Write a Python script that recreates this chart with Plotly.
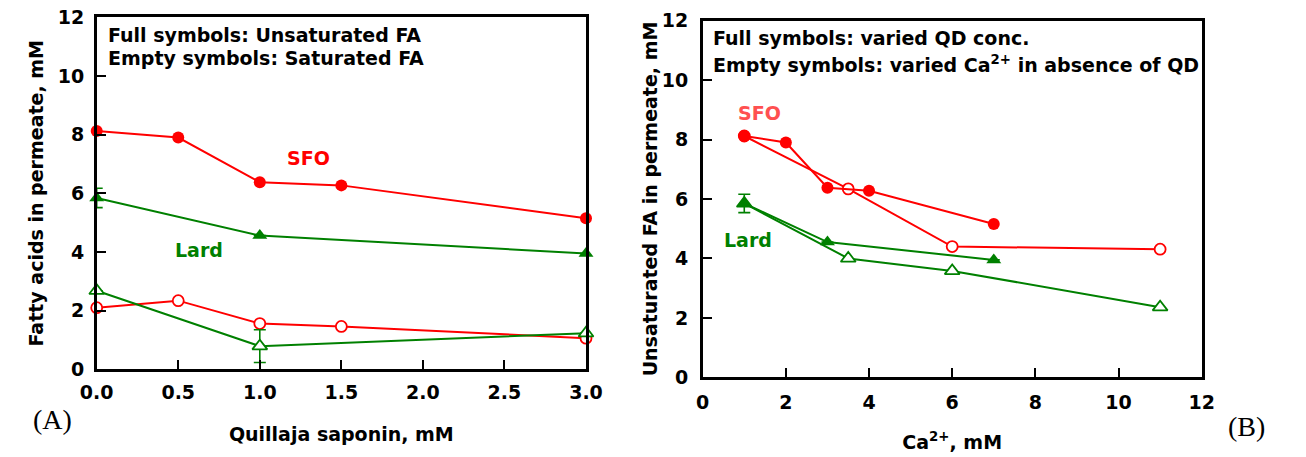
import plotly.graph_objects as go

# ---- Panel A: fatty acids in permeate vs. Quillaja saponin ----
saponin_mM = [0.0, 0.5, 1.0, 1.5, 3.0]
sfo_unsat_a = [8.12, 7.90, 6.38, 6.27, 5.15]
sfo_sat_a = [2.10, 2.34, 1.56, 1.46, 1.06]

lard_saponin_mM = [0.0, 1.0, 3.0]
lard_unsat_a = [5.84, 4.56, 3.95]
lard_unsat_a_err = [0.33, None, None]
lard_sat_a = [2.68, 0.79, 1.23]
lard_sat_a_err = [None, 0.56, None]

# ---- Panel B: unsaturated FA in permeate vs. Ca2+ ----
sfo_qd_ca = [1, 2, 3, 4, 7]
sfo_qd = [8.12, 7.90, 6.38, 6.28, 5.16]
sfo_ca_ca = [1, 3.5, 6, 11]
sfo_ca = [8.12, 6.34, 4.40, 4.31]

lard_qd_ca = [1, 3, 7]
lard_qd = [5.85, 4.55, 3.95]
lard_qd_err = [0.31, None, None]
lard_ca_ca = [1, 3.5, 6, 11]
lard_ca = [5.85, 4.00, 3.58, 2.36]

RED = "#FF0000"
GREEN = "#008000"
FONT = "DejaVu Sans"
FS = 19


def series(x, y, color, symbol, xa, ya, filled=True, err=None, size=12):
    tr = go.Scatter(
        x=x, y=y, mode="lines+markers", xaxis=xa, yaxis=ya,
        line=dict(color=color, width=2),
        marker=dict(symbol=symbol, size=size, color=color if filled else "white",
                    line=dict(color=color, width=0 if filled else 1.8)),
        cliponaxis=False, showlegend=False,
    )
    if err is not None:
        tr.error_y = dict(type="data", array=err, visible=True, color=color,
                          thickness=1.6, width=6)
    return tr


fig = go.Figure()
# Panel A
fig.add_trace(series(saponin_mM, sfo_unsat_a, RED, "circle", "x", "y"))
fig.add_trace(series(saponin_mM, sfo_sat_a, RED, "circle", "x", "y", filled=False, size=11))
fig.add_trace(series(lard_saponin_mM, lard_unsat_a, GREEN, "triangle-up", "x", "y",
                     err=lard_unsat_a_err, size=13))
fig.add_trace(series(lard_saponin_mM, lard_sat_a, GREEN, "triangle-up", "x", "y",
                     filled=False, err=lard_sat_a_err, size=13))
# Panel B (empty symbols first so the shared first point shows filled)
fig.add_trace(series(sfo_ca_ca, sfo_ca, RED, "circle", "x2", "y2", filled=False, size=11))
fig.add_trace(series(sfo_qd_ca, sfo_qd, RED, "circle", "x2", "y2"))
fig.add_trace(series(lard_ca_ca, lard_ca, GREEN, "triangle-up", "x2", "y2",
                     filled=False, size=13))
fig.add_trace(series(lard_qd_ca, lard_qd, GREEN, "triangle-up", "x2", "y2",
                     err=lard_qd_err, size=13))

tickfont = dict(family=FONT, size=FS, color="black", weight="bold")
titlefont = dict(family=FONT, size=FS, color="black", weight="bold")
axis_common = dict(
    showline=True, linecolor="black", linewidth=2.5, mirror=True,
    ticks="inside", ticklen=10, tickwidth=2, tickcolor="black",
    showgrid=False, zeroline=False, tickfont=tickfont, automargin=False,
)

W, H = 1306, 457


def px_x(p):
    return p / W


def px_y(p):
    return 1 - p / H


fig.update_layout(
    width=W, height=H, margin=dict(l=0, r=0, t=0, b=0),
    paper_bgcolor="white", plot_bgcolor="white",
    xaxis=dict(axis_common, domain=[px_x(96.7), px_x(586)], range=[0, 3],
               tickvals=[0, 0.5, 1, 1.5, 2, 2.5, 3], tickformat=".1f",
               anchor="y", ticklabelstandoff=4,
               title=dict(text="Quillaja saponin, mM", font=titlefont, standoff=26)),
    yaxis=dict(axis_common, domain=[px_y(369.3), px_y(17.3)], range=[0, 12],
               tickvals=[0, 2, 4, 6, 8, 10, 12], anchor="x", ticklabelstandoff=6,
               title=dict(text="Fatty acids in permeate, mM", font=titlefont, standoff=10)),
    xaxis2=dict(axis_common, domain=[px_x(702.7), px_x(1201.7)], range=[0, 12],
                tickvals=[0, 2, 4, 6, 8, 10, 12], anchor="y2", ticklabelstandoff=6,
                title=dict(text="Ca<sup>2+</sup>, mM", font=titlefont, standoff=24)),
    yaxis2=dict(axis_common, domain=[px_y(377.3), px_y(20.7)], range=[0, 12],
                tickvals=[0, 2, 4, 6, 8, 10, 12], anchor="x2", ticklabelstandoff=8,
                title=dict(text="Unsaturated FA in permeate, mM", font=titlefont, standoff=0)),
)

notes = [
    # corner notes (paper coordinates)
    dict(text="Full symbols: Unsaturated FA", x=px_x(106), y=px_y(35), xref="paper", yref="paper"),
    dict(text="Empty symbols: Saturated FA", x=px_x(106), y=px_y(58), xref="paper", yref="paper"),
    dict(text="Full symbols: varied QD conc.", x=px_x(711), y=px_y(38), xref="paper", yref="paper"),
    dict(text="Empty symbols: varied Ca<sup>2+</sup> in absence of QD", x=px_x(711), y=px_y(64),
         xref="paper", yref="paper"),
]
for n in notes:
    fig.add_annotation(showarrow=False, xanchor="left", yanchor="middle",
                       font=dict(family=FONT, size=FS, color="black", weight="bold"), **n)

# series labels
fig.add_annotation(text="SFO", x=1.296, y=7.22, xref="x", yref="y", showarrow=False,
                   font=dict(family=FONT, size=FS, color=RED, weight="bold"))
fig.add_annotation(text="Lard", x=0.627, y=4.07, xref="x", yref="y", showarrow=False,
                   font=dict(family=FONT, size=FS, color=GREEN, weight="bold"))
fig.add_annotation(text="SFO", x=1.366, y=8.9, xref="x2", yref="y2", showarrow=False,
                   font=dict(family=FONT, size=FS, color="#FF5050", weight="bold"))
fig.add_annotation(text="Lard", x=1.09, y=4.62, xref="x2", yref="y2", showarrow=False,
                   font=dict(family=FONT, size=FS, color=GREEN, weight="bold"))

# panel letters
fig.add_annotation(text="(A)", x=px_x(30.5), y=px_y(419), xref="paper", yref="paper",
                   showarrow=False, yanchor="middle",
                   font=dict(family="Liberation Serif", size=28, color="black"))
fig.add_annotation(text="(B)", x=px_x(1266.5), y=px_y(426), xref="paper", yref="paper",
                   showarrow=False, yanchor="middle",
                   font=dict(family="Liberation Serif", size=28, color="black"))

fig.write_html("out.html")
